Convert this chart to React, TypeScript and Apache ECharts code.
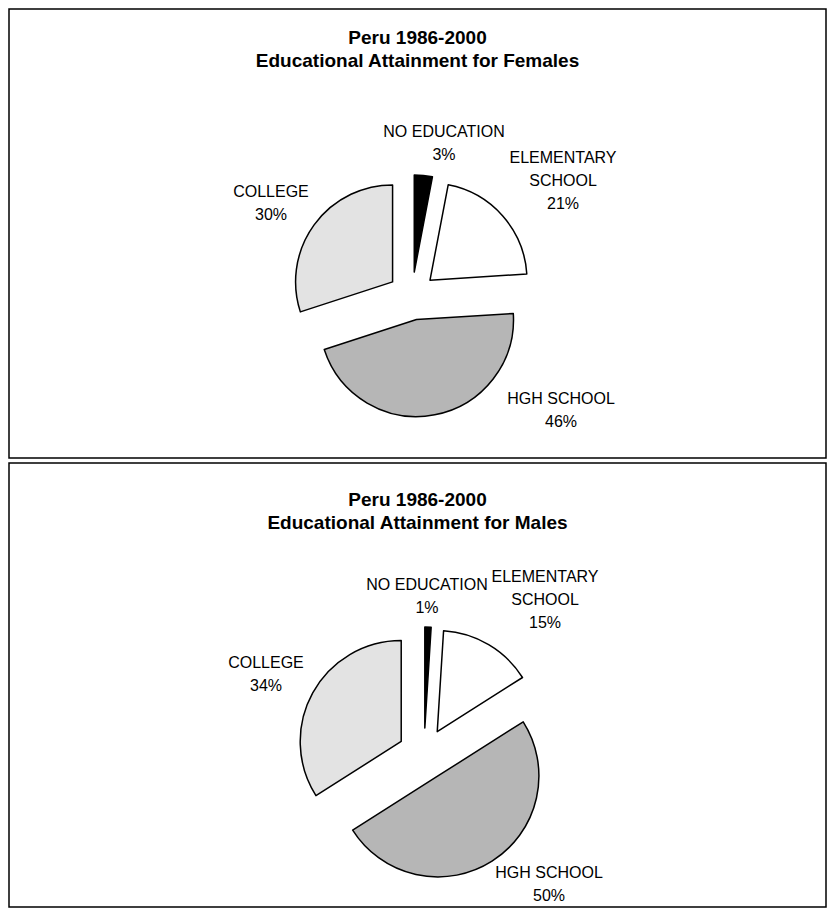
import React, { useEffect, useRef } from "react";
import * as echarts from "echarts";

// ---- data ----
const categories = ["NO EDUCATION", "ELEMENTARY\nSCHOOL", "HGH SCHOOL", "COLLEGE"];
const femaleValues = [3, 21, 46, 30];
const maleValues = [1, 15, 50, 34];
const titleLine1 = "Peru 1986-2000";
const femaleTitle = "Educational Attainment for Females";
const maleTitle = "Educational Attainment for Males";

// ---- styles / layout ----
const sliceColors = ["#000000", "#ffffff", "#b6b6b6", "#e3e3e3"];
const FONT = "'Liberation Sans', Arial, Helvetica, sans-serif";
// label block centres (layout only)
const femaleLabelPos = [
  [444, 143],
  [563, 180],
  [561, 410],
  [271, 203],
];
const maleLabelPos = [
  [427, 596],
  [545, 599],
  [549, 884],
  [266, 674],
];

function buildSeries(values: number[], center: [number, number], radius: number, offset: number) {
  return {
    type: "pie",
    center,
    radius,
    startAngle: 90,
    clockwise: true,
    selectedMode: "multiple",
    selectedOffset: offset,
    silent: true,
    emphasis: { disabled: true },
    itemStyle: { borderColor: "#000", borderWidth: 1.5, borderJoin: "round" },
    label: { show: false },
    labelLine: { show: false },
    data: values.map((v, i) => ({
      name: categories[i],
      value: v,
      selected: true,
      itemStyle: { color: sliceColors[i] },
    })),
  };
}

function buildLabels(values: number[], pos: number[][]) {
  return values.map((v, i) => ({
    type: "text",
    x: pos[i][0],
    y: pos[i][1],
    z: 10,
    style: {
      text: `${categories[i]}\n${v}%`,
      align: "center",
      verticalAlign: "middle",
      fill: "#000",
      fontFamily: FONT,
      fontSize: 16,
      lineHeight: 23,
    },
  }));
}

export default function App() {
  const ref = useRef<HTMLDivElement>(null);
  useEffect(() => {
    if (!ref.current) return;
    const chart = echarts.init(ref.current, undefined, { renderer: "svg" });
    chart.setOption({
      animation: false,
      backgroundColor: "#ffffff",
      graphic: [
        {
          type: "rect",
          z: -10,
          shape: { x: 9, y: 9, width: 817, height: 449 },
          style: { fill: "#fff", stroke: "#000", lineWidth: 1.5 },
        },
        {
          type: "rect",
          z: -10,
          shape: { x: 9, y: 463, width: 817, height: 444 },
          style: { fill: "#fff", stroke: "#000", lineWidth: 1.5 },
        },
        ...buildLabels(femaleValues, femaleLabelPos),
        ...buildLabels(maleValues, maleLabelPos),
      ],
      title: [
        {
          text: `${titleLine1}\n${femaleTitle}`,
          left: "center",
          top: 21,
          textStyle: { fontFamily: FONT, fontSize: 19, fontWeight: "bold", lineHeight: 23, color: "#000" },
        },
        {
          text: `${titleLine1}\n${maleTitle}`,
          left: "center",
          top: 483,
          textStyle: { fontFamily: FONT, fontSize: 19, fontWeight: "bold", lineHeight: 23, color: "#000" },
        },
      ],
      series: [
        buildSeries(femaleValues, [412, 296], 97, 24),
        buildSeries(maleValues, [424, 754], 101, 26),
      ],
    });
    return () => chart.dispose();
  }, []);
  return (
    <div
      ref={ref}
      style={{ position: "absolute", left: 0, top: 0, width: 835, height: 911 }}
    />
  );
}
